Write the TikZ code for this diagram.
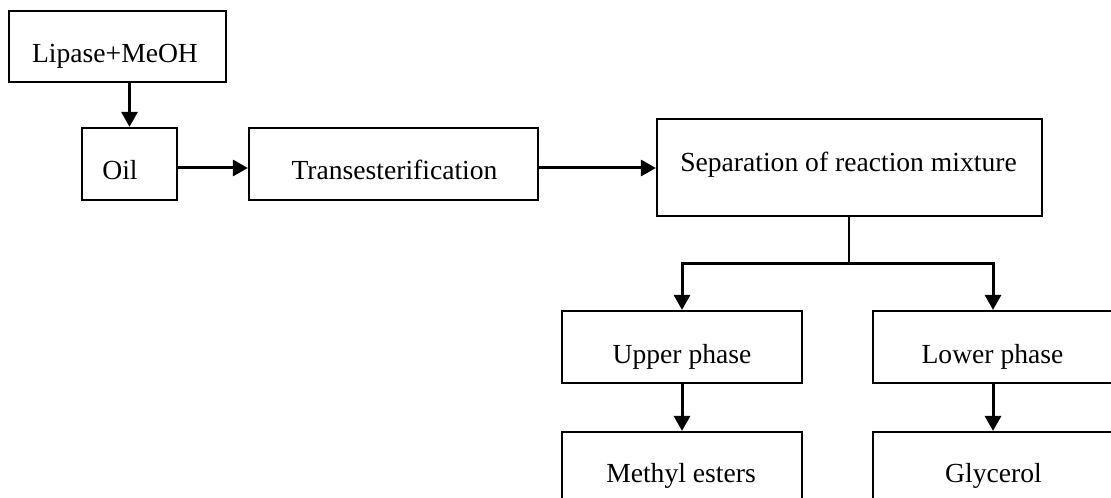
\documentclass[tikz,border=0pt]{standalone}
\usepackage{fontspec}
\setmainfont{Liberation Serif}
\usetikzlibrary{arrows.meta}
\begin{document}
\begin{tikzpicture}[x=0.5pt,y=-0.5pt,
  box/.style={draw=black,line width=1.1pt,rectangle,inner sep=0pt},
  txt/.style={anchor=base,inner sep=0pt,font=\fontsize{13.8}{16}\selectfont},
  arr/.style={line width=1.5pt,-{Triangle[length=7.5pt,width=8pt]}},
  ln/.style={line width=1.1pt}]
\path[use as bounding box] (0,0) rectangle (1111,497);
\fill[white] (0,0) rectangle (1111,497);
\clip (0,0) rectangle (1111,497);
% boxes
\node[box,minimum width=217pt*0.5,minimum height=71pt*0.5] (lip) at (117.5,46.5) {};
\node[box,minimum width=95pt*0.5,minimum height=72pt*0.5] (oil) at (129.5,164) {};
\node[box,minimum width=289pt*0.5,minimum height=72pt*0.5] (tr) at (393.5,164) {};
\node[box,minimum width=385pt*0.5,minimum height=97pt*0.5] (sep) at (849.5,167.5) {};
\node[box,minimum width=240pt*0.5,minimum height=72pt*0.5] (up) at (682,347) {};
\node[box,minimum width=240pt*0.5,minimum height=72pt*0.5] (low) at (993,347) {};
\node[box,minimum width=240pt*0.5,minimum height=72pt*0.5] (me) at (682,468) {};
\node[box,minimum width=240pt*0.5,minimum height=72pt*0.5] (gly) at (993,468) {};
% texts
\node[txt] (tlip) at (115,63) {Lipase+MeOH};
\node[txt] (toil) at (120,179) {Oil};
\node[txt] (ttr) at (394.5,180) {Transesterification};
\node[txt] (tsep) at (848.5,171) {Separation of reaction mixture};
\node[txt] (tup) at (682,363) {Upper phase};
\node[txt] (tlow) at (992.5,363) {Lower phase};
\node[txt] (tme) at (681,482) {Methyl esters};
\node[txt] (tgly) at (993.5,482) {Glycerol};
% connectors
\draw[arr] (oil.north |- lip.south) -- (oil.north);
\draw[arr] ([yshift=-2pt]oil.east) -- ([yshift=-2pt]oil.east -| tr.west);
\draw[arr] ([yshift=-2pt]tr.east) -- ([yshift=-2pt]tr.east -| sep.west);
\coordinate (j) at (849,263);
\draw[ln] (sep.south -| j) -- (j);
\draw[arr] (j) -| (up.north);
\draw[arr] (j) -| (low.north);
\draw[arr] (up.south) -- (me.north);
\draw[arr] (low.south) -- (gly.north);
\end{tikzpicture}
\end{document}
